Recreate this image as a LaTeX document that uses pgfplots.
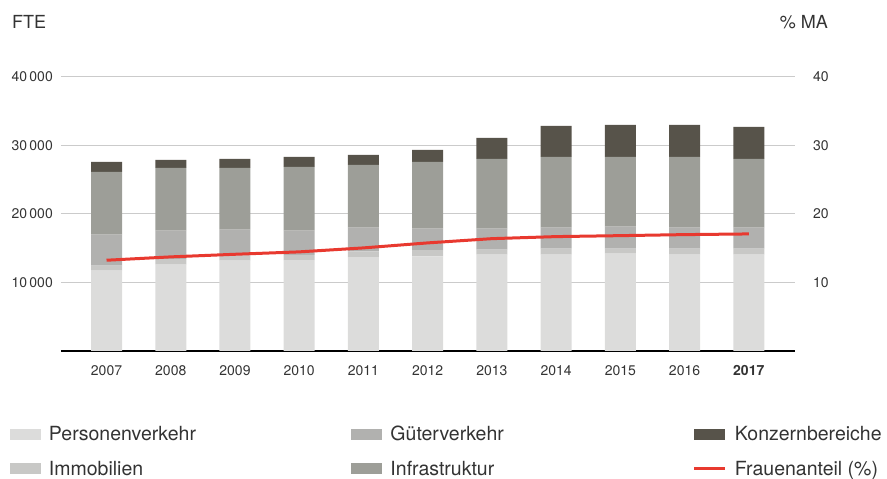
\documentclass[border=0pt]{standalone}
\usepackage{fontspec}
\setmainfont{TeX Gyre Heros}
\usepackage{pgfplots}
\usepackage{pgfplotstable}
\pgfplotsset{compat=1.18}

\definecolor{pv}{HTML}{DCDCDB}
\definecolor{im}{HTML}{C8C8C6}
\definecolor{gv}{HTML}{B1B1AF}
\definecolor{inf}{HTML}{9D9E98}
\definecolor{kb}{HTML}{57534A}
\definecolor{fa}{HTML}{E8392F}
\definecolor{txt}{HTML}{333333}
\definecolor{gridc}{HTML}{CBCBCB}

% FTE per division (stacked) and share of women in %
\pgfplotstableread{
x  pv    im  gv   inf   kb   fa
0  11750 730 4510 9170  1460 13.25
1  12620 780 4170 9180  1160 13.74
2  13200 730 3790 9030  1310 14.12
3  13250 780 3540 9320  1460 14.47
4  13690 870 3450 9170  1460 15.05
5  13830 880 3150 9760  1750 15.78
6  14080 730 3050 10200 3050 16.40
7  14080 870 3060 10340 4510 16.70
8  14230 720 3210 10190 4660 16.84
9  14080 870 3060 10340 4660 16.99
10 14080 870 3060 10050 4660 17.09
}\data

\pgfplotsset{
  swatch/.style={legend image code/.code={\fill[##1] (0pt,-5.5pt) rectangle (31pt,5.5pt);}},
  redline/.style={legend image code/.code={\draw[##1] (0pt,0pt) -- (31pt,0pt);}},
  common/.style={
    at={(61pt,128pt)}, anchor=south west,
    scale only axis, width=734pt, height=274pt,
    xmin=-0.709, xmax=10.72,
    major tick length=0pt,
    clip=false,
    tick label style={font=\fontsize{14}{16}\selectfont, text=txt},
    /pgf/number format/assume math mode=true,
  },
}

\begin{document}
\begin{tikzpicture}
\path[use as bounding box] (0,0) rectangle (887pt,479pt);

\begin{axis}[
  common,
  ymin=0, ymax=40000,
  ybar stacked, bar width=31pt,
  xtick={0,...,10},
  xticklabels={2007,2008,2009,2010,2011,2012,2013,2014,2015,2016,\textbf{2017}},
  ytick={10000,20000,30000,40000},
  scaled y ticks=false,
  /pgf/number format/1000 sep={\,},
  ymajorgrids, grid style={draw=gridc, line width=1pt},
  axis x line*=bottom, axis y line*=left,
  x axis line style={black, line width=2.5pt},
  y axis line style={draw=none},
  yticklabel style={inner sep=0pt}, yticklabel shift=8pt,
  xticklabel style={inner sep=0pt}, xticklabel shift=14pt,
  legend columns=3,
  legend cell align=left,
  legend style={at={(0,0)}, anchor=north west, xshift=-51pt, yshift=-75pt,
    draw=none, fill=none, inner sep=0pt, outer sep=0pt,
    font=\fontsize{19.5}{22}\selectfont, text=txt,
    row sep=19pt, nodes={inner sep=0pt},
    /tikz/every odd column/.append style={column sep=8pt},
    /tikz/every even column/.append style={column sep=0pt}},
]
\addplot[fill=pv, draw=none, forget plot] table[x=x, y=pv] {\data};
\addplot[fill=im, draw=none, forget plot] table[x=x, y=im] {\data};
\addplot[fill=gv, draw=none, forget plot] table[x=x, y=gv] {\data};
\addplot[fill=inf, draw=none, forget plot] table[x=x, y=inf] {\data};
\addplot[fill=kb, draw=none, forget plot] table[x=x, y=kb] {\data};

\addlegendimage{swatch, fill=pv, draw=none}
\addlegendentry{\makebox[302.5pt][l]{Personenverkehr}}
\addlegendimage{swatch, fill=gv, draw=none}
\addlegendentry{\makebox[302.5pt][l]{Güterverkehr}}
\addlegendimage{swatch, fill=kb, draw=none}
\addlegendentry{Konzernbereiche}
\addlegendimage{swatch, fill=im, draw=none}
\addlegendentry{Immobilien}
\addlegendimage{swatch, fill=inf, draw=none}
\addlegendentry{Infrastruktur}
\addlegendimage{redline, draw=fa, line width=3pt}
\addlegendentry{Frauenanteil (\%)}

\node[anchor=base west, inner sep=0pt, font=\fontsize{18}{20}\selectfont, text=txt]
  at ([xshift=-49pt, yshift=48.7pt]rel axis cs:0,1) {FTE};
\end{axis}

\begin{axis}[
  common,
  ymin=0, ymax=40,
  ytick={10,20,30,40},
  axis x line=none,
  axis y line*=right,
  y axis line style={draw=none},
  yticklabel style={inner sep=0pt, anchor=west}, yticklabel shift=18pt,
]
\addplot[draw=fa, line width=3pt, mark=none] table[x=x, y=fa] {\data};
\node[anchor=base east, inner sep=0pt, font=\fontsize{18}{20}\selectfont, text=txt]
  at ([xshift=33pt, yshift=48.7pt]rel axis cs:1,1) {\% MA};
\end{axis}
\end{tikzpicture}
\end{document}
